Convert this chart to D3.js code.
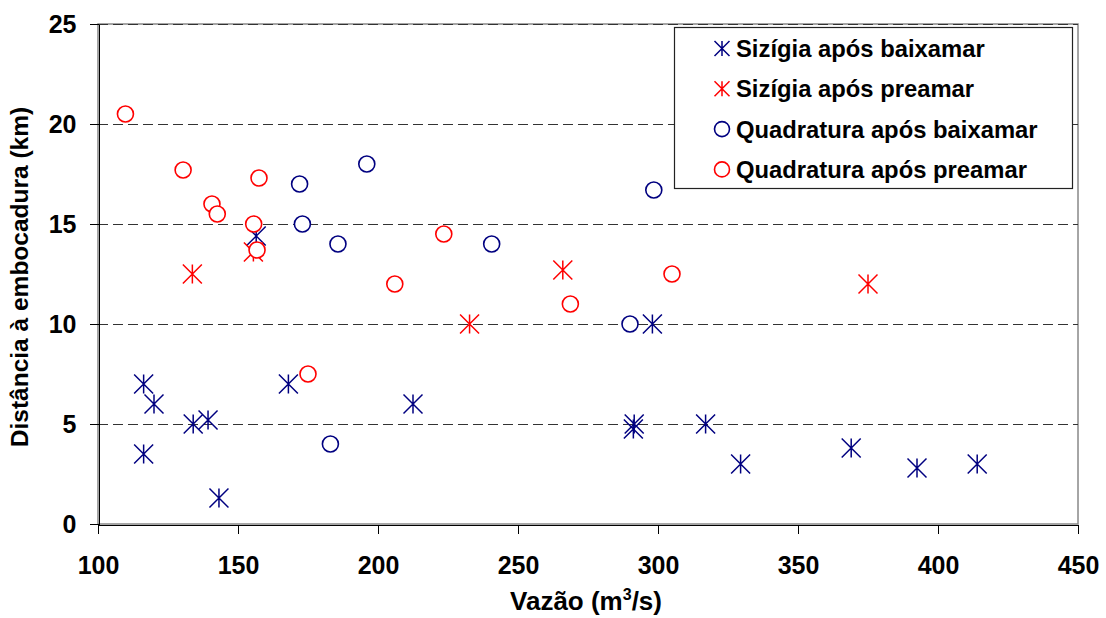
<!DOCTYPE html>
<html>
  <head>
    <meta charset="utf-8">
    <title>Distância à embocadura x Vazão</title>
    <script src="https://d3js.org/d3.v7.min.js"></script>
    <style>
      body { margin: 0; background: white; }
      text { font-family: "Liberation Sans", Arial, sans-serif; font-weight: bold; fill: black; }
      .grid line { stroke: #333; stroke-dasharray: 10 5; shape-rendering: crispEdges; }
      .axis path, .axis line { stroke: black; shape-rendering: crispEdges; }
    </style>
  </head>
  <body>
    <svg id="chart" width="1106" height="618"></svg>
    <script>
      // data (vazão m3/s, distância km)
      const sbVazao = [116.3, 120, 116.3, 134, 139.3, 143.2, 156.5, 168, 212.5, 291.2, 291.5, 298, 317, 329.5, 369, 392.5, 414];
      const sbDist = [7, 6, 3.5, 5, 5.2, 1.3, 14.4, 7, 6, 4.75, 5, 10, 5, 3, 3.8, 2.8, 3];
      const spVazao = [133.7, 155.5, 232.7, 266, 375];
      const spDist = [12.5, 13.6, 10, 12.7, 12];
      const qbVazao = [172, 173, 183, 185.7, 196, 240.6, 290, 298.5];
      const qbDist = [17, 15, 4, 14, 18, 14, 10, 16.7];
      const qpVazao = [109.8, 130.4, 140.7, 142.6, 155.6, 156.8, 157.5, 175, 206, 223.5, 268.7, 305];
      const qpDist = [20.5, 17.7, 16, 15.5, 15, 13.7, 17.3, 7.5, 12, 14.5, 11, 12.5];
      const seriesNames = ["Sizígia após baixamar", "Sizígia após preamar", "Quadratura após baixamar", "Quadratura após preamar"];
      const xTicks = [100, 150, 200, 250, 300, 350, 400, 450];
      const yTicks = [0, 5, 10, 15, 20, 25];

      const navy = "#000080", red = "#ff0000";
      const series = [
        { name: seriesNames[0], xs: sbVazao, ys: sbDist, shape: "star", colour: navy },
        { name: seriesNames[1], xs: spVazao, ys: spDist, shape: "star", colour: red },
        { name: seriesNames[2], xs: qbVazao, ys: qbDist, shape: "circle", colour: navy },
        { name: seriesNames[3], xs: qpVazao, ys: qpDist, shape: "circle", colour: red }
      ];

      svg = d3.select("#chart");
      x = d3.scaleLinear().domain([100, 450]).range([98, 1078]);
      y = d3.scaleLinear().domain([0, 25]).range([524, 24]);

      // plot area border (grey, only the right side shows)
      svg.append("rect")
        .attr("x", x(100)).attr("y", y(25))
        .attr("width", x(450) - x(100)).attr("height", y(0) - y(25))
        .attr("fill", "none").attr("stroke", "#888").attr("stroke-width", 1.5);

      // dashed gridlines
      svg.append("g").attr("class", "grid")
        .selectAll("line")
          .data(yTicks.filter(function(d) { return d > 0; }))
        .enter().append("line")
          .attr("x1", x(100)).attr("x2", x(450))
          .attr("y1", function(d) { return y(d) + 0.5; })
          .attr("y2", function(d) { return y(d) + 0.5; });

      // axes
      xAxis = svg.append("g").attr("class", "axis")
        .attr("transform", "translate(0," + (y(0) + 0.5) + ")")
        .call(d3.axisBottom(x).tickValues(xTicks).tickSize(9).tickSizeOuter(0).tickPadding(23));
      yAxis = svg.append("g").attr("class", "axis")
        .attr("transform", "translate(" + (x(100) + 0.5) + ",0)")
        .call(d3.axisLeft(y).tickValues(yTicks).tickSize(9).tickSizeOuter(0).tickPadding(13));
      svg.selectAll(".axis text")
        .style("font-family", "'Liberation Sans', Arial, sans-serif")
        .style("font-weight", "bold")
        .style("font-size", "25px");

      // axis titles
      xTitle = svg.append("text")
        .attr("x", 586).attr("y", 610)
        .attr("text-anchor", "middle")
        .style("font-size", "26px");
      xTitle.append("tspan").text("Vazão (m");
      xTitle.append("tspan").attr("dy", -10).style("font-size", "16px").text("3");
      xTitle.append("tspan").attr("dy", 10).text("/s)");
      svg.append("text")
        .attr("transform", "translate(28," + 277 + ") rotate(-90)")
        .attr("text-anchor", "middle")
        .style("font-size", "24.5px")
        .text("Distância à embocadura (km)");

      // marker drawing
      function starPath(s) {
        return "M" + (-s) + "," + (-s) + "L" + s + "," + s +
          "M" + s + "," + (-s) + "L" + (-s) + "," + s +
          "M0," + (-s) + "L0," + s;
      }
      function drawMarker(g, shape, colour, size) {
        if (shape === "star") {
          g.append("path").attr("d", starPath(size))
            .attr("fill", "none").attr("stroke", colour).attr("stroke-width", 1.5);
        } else {
          g.append("circle").attr("r", size)
            .attr("fill", "white").attr("stroke", colour).attr("stroke-width", 1.6);
        }
      }

      // points, series drawn in order
      series.forEach(function(s) {
        svg.append("g").selectAll("g")
            .data(d3.range(s.xs.length))
          .enter().append("g")
            .attr("transform", function(i) { return "translate(" + x(s.xs[i]) + "," + y(s.ys[i]) + ")"; })
            .each(function() { drawMarker(d3.select(this), s.shape, s.colour, s.shape === "star" ? 9.5 : 8); });
      });

      // legend
      legend = svg.append("g").attr("transform", "translate(674,27)");
      legend.append("rect")
        .attr("x", 0.5).attr("y", 0.5).attr("width", 398).attr("height", 161)
        .attr("fill", "white").attr("stroke", "#222").attr("stroke-width", 1.2);
      items = legend.selectAll(".item")
          .data(series)
        .enter().append("g")
          .attr("class", "item")
          .attr("transform", function(d, i) { return "translate(48," + (21.5 + i * 40.3) + ")"; });
      items.each(function(d) { drawMarker(d3.select(this), d.shape, d.colour, 7.5); });
      items.append("text")
        .attr("x", 14).attr("y", 8.5)
        .style("font-size", "23.8px")
        .text(function(d) { return d.name; });
    </script>
  </body>
</html>
